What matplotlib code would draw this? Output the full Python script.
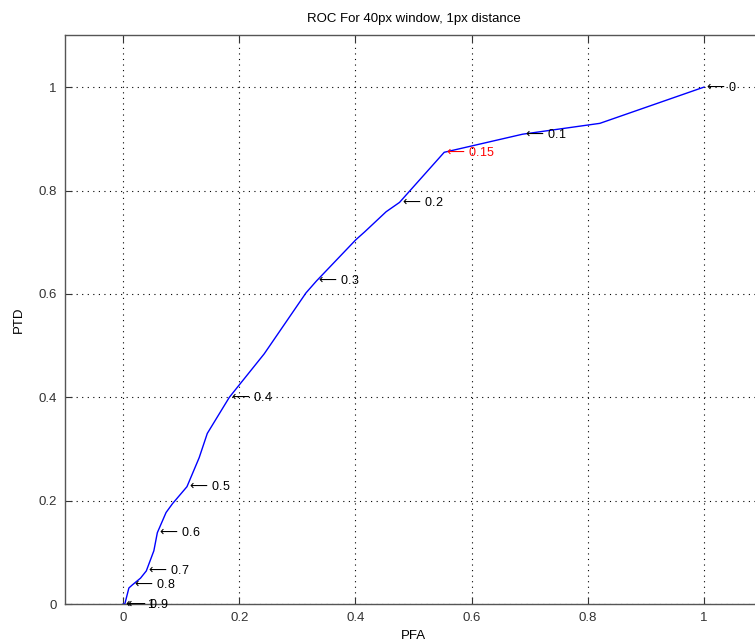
import numpy as np
import matplotlib.pyplot as plt

plt.rcParams['font.family'] = ['Liberation Sans', 'DejaVu Sans']
plt.rcParams['mathtext.fontset'] = 'dejavusans'

# ROC curve vertices (false alarm vs. true detection)
pfa = [1.0, 0.821, 0.688, 0.553, 0.476, 0.453, 0.416, 0.401, 0.333, 0.315,
       0.243, 0.183, 0.145, 0.131, 0.110, 0.085, 0.074, 0.059, 0.053, 0.040,
       0.030, 0.016, 0.010, 0.003, 0.0]
ptd = [1.0, 0.930, 0.909, 0.874, 0.777, 0.759, 0.720, 0.705, 0.625, 0.602,
       0.484, 0.400, 0.330, 0.283, 0.227, 0.194, 0.177, 0.138, 0.103, 0.064,
       0.050, 0.037, 0.031, 0.0, 0.0]

# threshold labels and the curve vertex each one points at
thresholds = ['0', '0.1', '0.15', '0.2', '0.3', '0.4', '0.5', '0.6', '0.7', '0.8', '0.9', '1']
thresh_idx = [0, 2, 3, 4, 8, 11, 14, 17, 19, 21, 23, 24]
highlight = '0.15'

fig = plt.figure(figsize=(7.55, 6.44), dpi=100)
ax = fig.add_axes([0.0861, 0.0621, 0.923, 0.8828])

ax.plot(pfa, ptd, color='blue', lw=1.0)

for lab, i in zip(thresholds, thresh_idx):
    c = 'red' if lab == highlight else 'black'
    ax.text(pfa[i], ptd[i], r'$\longleftarrow\,$' + lab, color=c, fontsize=9,
            ha='left', va='center')

ax.set_xlim(-0.1, 1.1)
ax.set_ylim(0, 1.1)
ax.set_xticks(np.arange(0, 1.01, 0.2))
ax.set_yticks(np.arange(0, 1.01, 0.2))
ax.set_xticklabels(['0', '0.2', '0.4', '0.6', '0.8', '1'])
ax.set_yticklabels(['0', '0.2', '0.4', '0.6', '0.8', '1'])
ax.grid(True, linestyle=(0, (1, 4)), color='black', lw=0.8)
ax.tick_params(direction='in', length=5, top=True, right=True,
               labelsize=9.5, colors='#333333', pad=6)
for s in ax.spines.values():
    s.set_color('#555555')
    s.set_linewidth(1.0)

ax.set_title('ROC For 40px window, 1px distance', fontsize=9.5, pad=10)
ax.set_xlabel('PFA', fontsize=9.5, labelpad=4)
ax.set_ylabel('PTD', fontsize=9.5, labelpad=10)

fig.savefig('out.png', dpi=100)
